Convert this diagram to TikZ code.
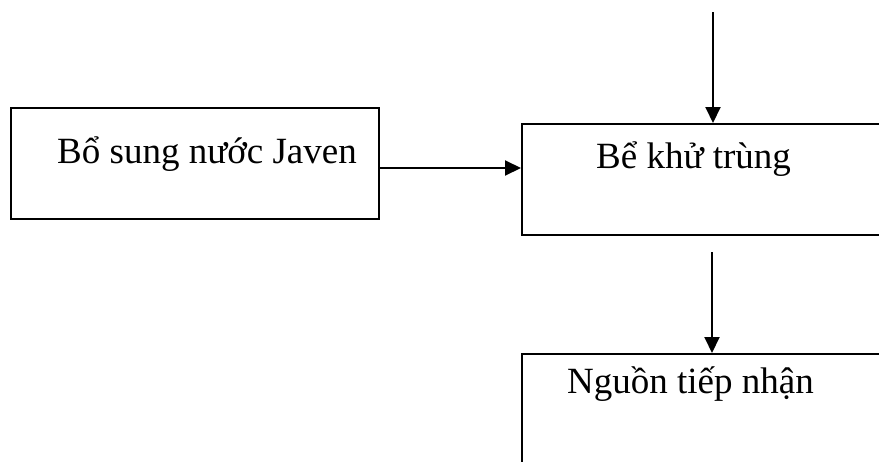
\documentclass[tikz,border=0pt]{standalone}
\usepackage{fontspec}
\setmainfont{Liberation Serif}
\usetikzlibrary{arrows.meta,calc}
\tikzset{
  box/.style={draw=black, line width=2pt, rectangle, inner sep=0pt, anchor=north west},
  lbl/.style={inner sep=0pt, anchor=base west, font=\fontsize{37}{40}\selectfont},
  arr/.style={draw=black, line width=2pt, -{Triangle[length=16pt,width=15pt]}}
}
\begin{document}
\begin{tikzpicture}[x=1pt,y=-1pt]
\useasboundingbox (0,0) rectangle (879,461);
\clip (0,0) rectangle (879,461);
% process boxes
\node[box, minimum width=368pt, minimum height=111pt] (b1) at (10,107) {};
\node[box, minimum width=380pt, minimum height=111pt] (b2) at (521,123) {};
\node[box, minimum width=380pt, minimum height=130pt] (b3) at (521,353) {};
% box captions
\node[lbl] (t1) at (57,163) {Bổ sung nước Javen};
\node[lbl] (t2) at (596,168) {Bể khử trùng};
\node[lbl] (t3) at (567,393) {Nguồn tiếp nhận};
% connectors
\coordinate (in) at (713,12);
\coordinate (out) at (712,252);
\coordinate (side) at (378,168);
\draw[arr] (in) -- (in |- b2.north);
\draw[arr] (side) -- (side -| b2.west);
\draw[arr] (out) -- (out |- b3.north);
\end{tikzpicture}
\end{document}
